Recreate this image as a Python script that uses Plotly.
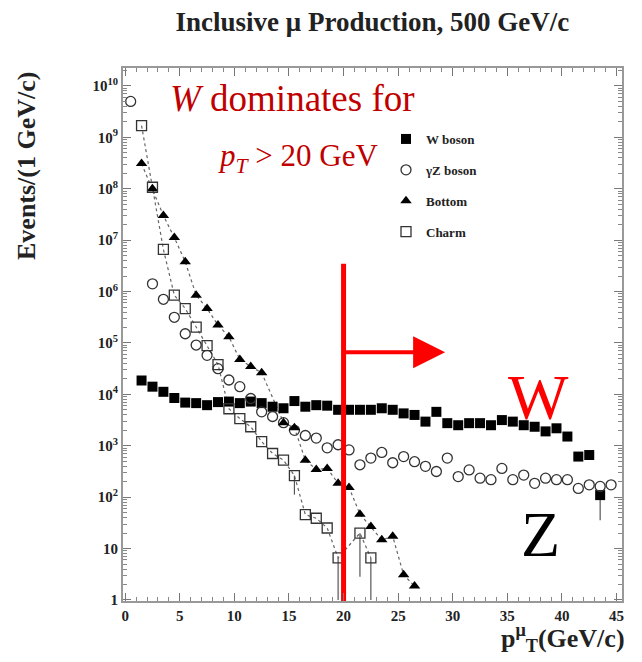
import numpy as np
import plotly.graph_objects as go

# ---------------- data (y given as log10(events)) ----------------
w_x = [1.5, 2.5, 3.5, 4.5, 5.5, 6.5, 7.5, 8.5, 9.5, 10.5, 11.5, 12.5, 13.5, 14.5, 15.5,
       16.5, 17.5, 18.5, 19.5, 20.5, 21.5, 22.5, 23.5, 24.5, 25.5, 26.5, 27.5, 28.5, 29.5,
       30.5, 31.5, 32.5, 33.5, 34.5, 35.5, 36.5, 37.5, 38.5, 39.5, 40.5, 41.5, 42.5, 43.5]
w_log = [4.27, 4.15, 4.05, 3.93, 3.84, 3.83, 3.79, 3.85, 3.86, 3.83, 3.86, 3.83, 3.76, 3.73, 3.87,
         3.76, 3.79, 3.78, 3.70, 3.70, 3.70, 3.70, 3.73, 3.70, 3.63, 3.60, 3.47, 3.66, 3.44,
         3.40, 3.44, 3.44, 3.40, 3.50, 3.47, 3.40, 3.37, 3.28, 3.34, 3.18, 2.79, 2.82, 2.04]

z_x = [0.5, 2.5, 3.5, 4.5, 5.5, 6.5, 7.5, 8.5, 9.5, 10.5, 11.5, 12.5, 13.5, 14.5, 15.5, 16.5,
       17.5, 18.5, 19.5, 20.5, 21.5, 22.5, 23.5, 24.5, 25.5, 26.5, 27.5, 28.5, 29.5, 30.5,
       31.5, 32.5, 33.5, 34.5, 35.5, 36.5, 37.5, 38.5, 39.5, 40.5, 41.5, 42.5, 43.5, 44.5]
z_log = [9.70, 6.15, 5.85, 5.50, 5.18, 4.96, 4.76, 4.50, 4.28, 4.15, 3.92, 3.66, 3.57, 3.45, 3.30, 3.20,
         3.15, 2.96, 3.02, 2.92, 2.63, 2.76, 2.87, 2.67, 2.79, 2.69, 2.60, 2.50, 2.76, 2.40,
         2.53, 2.37, 2.34, 2.56, 2.34, 2.43, 2.27, 2.37, 2.34, 2.34, 2.17, 2.24, 2.21, 2.24]

b_x = [1.5, 2.5, 3.5, 4.5, 5.5, 6.5, 7.5, 8.5, 9.5, 10.5, 11.5, 12.5, 14.5, 15.5, 16.5,
       17.5, 18.5, 19.5, 20.5, 21.5, 22.5, 23.5, 24.5, 25.5, 26.5]
b_log = [8.49, 8.00, 7.48, 7.05, 6.58, 5.93, 5.67, 5.35, 5.12, 4.68, 4.54, 4.42, 3.45, 3.35, 2.72,
         2.54, 2.56, 2.27, 2.19, 1.67, 1.43, 1.17, 1.24, 0.49, 0.27]

c_x = [1.5, 2.5, 3.5, 4.5, 5.5, 6.5, 7.5, 8.5, 9.5, 10.5, 11.5, 12.5, 13.5, 14.5, 15.5,
       16.5, 17.5, 18.5, 19.5, 21.5, 22.5]
c_log = [9.23, 8.03, 6.82, 5.93, 5.67, 5.31, 4.95, 4.58, 3.72, 3.53, 3.37, 3.08, 2.85, 2.72, 2.42,
         1.66, 1.59, 1.40, 0.82, 1.30, 0.82]
# lower end of error bars (log10), None = no bar
c_err_low_log = [None] * 14 + [2.05, None, None, None, 0.0, 0.45, 0.0]
w_err_low_log = [None] * 42 + [1.55]

x_ticks = [0, 5, 10, 15, 20, 25, 30, 35, 40, 45]
y_decades = list(range(0, 11))
y_ticktext = ["1", "10"] + ["10<sup>%d</sup>" % n for n in range(2, 11)]

cut_x = 20            # pT cut (GeV/c)
cut_top_log = 6.54    # top of red cut line
arrow_end_x = 29.3
arrow_log = 4.82

# ---------------- helpers ----------------
def vals(logs):
    return [10 ** v for v in logs]

def minus(logs, lows):
    return [0 if lo is None else 10 ** v - 10 ** lo for v, lo in zip(logs, lows)]

def px_to_paper_x(px):
    return (px - 123) / 499.0

def px_to_paper_y(py):
    return (601 - py) / 533.0

SERIF = "Liberation Serif, Times New Roman, serif"
INK = "#222222"

fig = go.Figure()

# dotted guide curves (not in legend)
fig.add_trace(go.Scatter(x=b_x, y=vals(b_log), mode="lines", showlegend=False, hoverinfo="skip",
                         line=dict(color="#666", width=1.2, dash="dot")))
fig.add_trace(go.Scatter(x=c_x, y=vals(c_log), mode="lines", showlegend=False, hoverinfo="skip",
                         line=dict(color="#666", width=1.2, dash="dot")))

fig.add_trace(go.Scatter(
    x=w_x, y=vals(w_log), mode="markers", name="W boson", legendgroup="w",
    marker=dict(symbol="square", size=10, color="black"),
    error_y=dict(type="data", symmetric=False, array=[0] * len(w_x),
                 arrayminus=minus(w_log, w_err_low_log), color="#555", thickness=1.2, width=0),
))
fig.add_trace(go.Scatter(
    x=z_x, y=vals(z_log), mode="markers", name="γZ boson", legendgroup="z",
    marker=dict(symbol="circle-open", size=10, color="#333", line=dict(width=1.3)),
))
fig.add_trace(go.Scatter(
    x=b_x, y=vals(b_log), mode="markers", name="Bottom", legendgroup="b",
    marker=dict(symbol="triangle-up", size=10, color="black"),
))
fig.add_trace(go.Scatter(
    x=c_x, y=vals(c_log), mode="markers", name="Charm", legendgroup="c",
    marker=dict(symbol="square-open", size=10, color="#333", line=dict(width=1.3)),
    error_y=dict(type="data", symmetric=False, array=[0] * len(c_x),
                 arrayminus=minus(c_log, c_err_low_log), color="#555", thickness=1.2, width=0),
))

# red cut line at pT = 20
fig.add_trace(go.Scatter(
    x=[cut_x, cut_x], y=[10 ** -0.05, 10 ** cut_top_log], mode="lines",
    line=dict(color="#ff0000", width=5), showlegend=False, hoverinfo="skip",
))

# arrow
fig.add_annotation(
    x=arrow_end_x, y=arrow_log, ax=cut_x, ay=arrow_log, xref="x", yref="y",
    axref="x", ayref="y", text="", showarrow=True, arrowhead=2, arrowsize=1.6,
    arrowwidth=4, arrowcolor="#ff0000", standoff=0,
)

fig.add_annotation(
    x=px_to_paper_x(168), y=px_to_paper_y(98), xref="paper", yref="paper",
    xanchor="left", yanchor="middle", showarrow=False,
    text="<i>W</i> dominates for", font=dict(family=SERIF, size=37, color="#c00000"),
)
fig.add_annotation(
    x=px_to_paper_x(216), y=px_to_paper_y(158), xref="paper", yref="paper",
    xanchor="left", yanchor="middle", showarrow=False,
    text="<i>p<sub>T</sub></i> > 20 GeV", font=dict(family=SERIF, size=31, color="#c00000"),
)
fig.add_annotation(
    x=px_to_paper_x(538), y=px_to_paper_y(397), xref="paper", yref="paper",
    xanchor="center", yanchor="middle", showarrow=False,
    text="W", font=dict(family=SERIF, size=64, color="#ff0000"),
)
fig.add_annotation(
    x=px_to_paper_x(540), y=px_to_paper_y(534), xref="paper", yref="paper",
    xanchor="center", yanchor="middle", showarrow=False,
    text="Z", font=dict(family=SERIF, size=64, color="black"),
)
# axis titles
fig.add_annotation(
    x=px_to_paper_x(26), y=px_to_paper_y(166), xref="paper", yref="paper",
    xanchor="center", yanchor="middle", showarrow=False, textangle=-90,
    text="Events/(1 GeV/c)", font=dict(family=SERIF, size=26, color=INK, weight="bold"),
)
fig.add_annotation(
    x=px_to_paper_x(563), y=px_to_paper_y(638), xref="paper", yref="paper",
    xanchor="center", yanchor="middle", showarrow=False,
    text="p<sup>μ</sup><sub>T</sub>(GeV/c)", font=dict(family=SERIF, size=26, color=INK, weight="bold"),
)

minor_y = [k * 10 ** n for n in range(0, 11) for k in range(2, 10)]

fig.update_layout(
    width=642, height=662,
    margin=dict(l=123, r=20, t=68, b=61),
    paper_bgcolor="white", plot_bgcolor="white",
    title=dict(text="Inclusive μ Production, 500 GeV/c", x=0.58, xanchor="center",
               y=1 - 22 / 662, yanchor="middle",
               font=dict(family=SERIF, size=27, color=INK, weight="bold")),
    showlegend=True,
    legend=dict(x=px_to_paper_x(386), y=px_to_paper_y(124), xanchor="left", yanchor="top",
                bgcolor="rgba(0,0,0,0)", tracegroupgap=11,
                font=dict(family=SERIF, size=13, color=INK, weight="bold")),
    xaxis=dict(range=[-0.2, 45.5], tickvals=x_ticks, ticks="inside", ticklen=8,
               tickcolor="#777", showgrid=False, zeroline=False, showline=True,
               linecolor="#999", linewidth=2, mirror="allticks",
               tickfont=dict(family=SERIF, size=15, color=INK, weight="bold"),
               minor=dict(dtick=1, ticks="inside", ticklen=4, tickcolor="#888", showgrid=False)),
    yaxis=dict(type="log", range=[-0.02, 10.35], tickvals=[10 ** n for n in y_decades],
               ticktext=y_ticktext, ticks="inside", ticklen=8, tickcolor="#777",
               showgrid=False, zeroline=False, showline=True, linecolor="#999", linewidth=2,
               mirror="allticks",
               tickfont=dict(family=SERIF, size=15, color=INK, weight="bold"),
               minor=dict(tickmode="array", tickvals=minor_y, ticks="inside", ticklen=4,
                          tickcolor="#888", showgrid=False)),
)

fig.write_html("out.html")
